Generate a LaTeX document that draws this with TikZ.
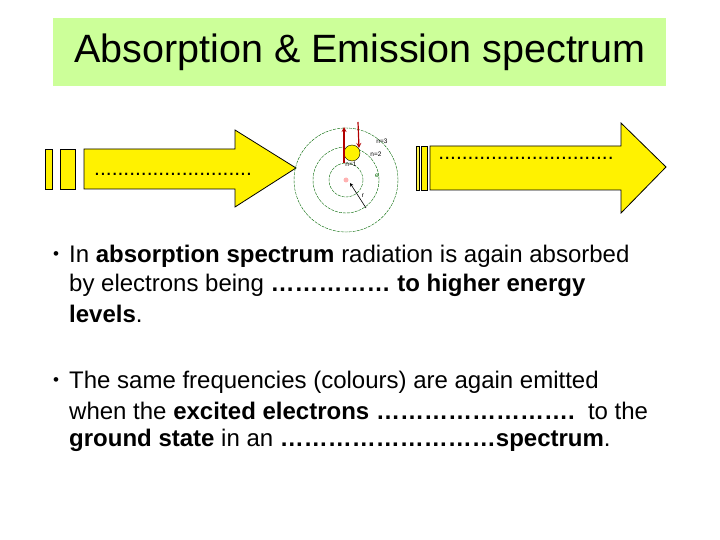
\documentclass[tikz,border=0pt]{standalone}
\usepackage{fontspec}
\setmainfont{Liberation Sans}
\begin{document}
\begin{tikzpicture}[x=1pt,y=-1pt,
  ybox/.style={draw=black,fill=yellow,line width=0.8pt},
  orbit/.style={draw=green!40!black,dashed,dash pattern=on 3pt off 1pt,line width=0.4pt},
  lab/.style={font=\fontsize{6.5}{7}\selectfont,inner sep=0pt},
  txt/.style={anchor=west,inner sep=0pt,font=\fontsize{24}{28}\selectfont}]
\useasboundingbox (0,0) rectangle (720,540);
\node[fill={rgb,255:red,204;green,255;blue,153},minimum width=613pt,minimum height=68pt,anchor=north west,inner sep=0pt] (title) at (53,18) {};
\node[font=\fontsize{39.5}{46}\selectfont] at (title.center) {Absorption \& Emission spectrum};
% left arrow
\draw[ybox] (45,149) rectangle (52,189);
\draw[ybox] (60,149) rectangle (75,189);
\draw[ybox] (84,149) -- (235,149) -- (235,130) -- (296,168) -- (235,207) -- (235,189) -- (84,189) -- cycle;
\node[inner sep=0pt,font=\fontsize{21}{24}\selectfont] (ld) at (173,174) {...........................};
% right arrow
\draw[ybox,fill=yellow!70!white] (416,146) rectangle (419,190);
\draw[ybox] (421,146) rectangle (427,190);
\draw[ybox] (430,146) -- (621,146) -- (621,123) -- (666,167) -- (621,213) -- (621,190) -- (430,190) -- cycle;
\node[inner sep=0pt,font=\fontsize{21}{24}\selectfont] (rd) at (526,158) {..............................};
% atom
\coordinate (c) at (346,180);
\draw[orbit] (c) circle (52);
\draw[orbit] (c) circle (33);
\draw[orbit] (c) circle (17);
\fill[red!30] (c) circle (2.5);
\node[draw=black,fill=yellow,circle,minimum size=16pt,inner sep=0pt] (ball) at (352,153) {};
\draw[red!70!black,line width=1.2pt,-stealth] (344,163) -- (344,127);
\draw[red!70!black,line width=1.2pt,-stealth] (358,122) -- (359,148);
\node[lab] at (351,164) {n=1};
\node[lab] at (376,154) {n=2};
\node[lab] at (382,141) {n=3};
\node[lab] at (363,196) {r};
\node[lab,green!40!black] at (377,176) {e};
\draw[-stealth,line width=0.6pt] (366,208) -- (350,183);
% bullets
\node[txt,font=\fontsize{17}{20}\selectfont] (b1) at (53,256) {\textbullet};
\node[txt] (l1) at (69,256) {In \textbf{absorption spectrum} radiation is again absorbed};
\node[txt] (l2) at (69,285) {by electrons being \textbf{…………… to higher energy}};
\node[txt] (l3) at (69,314) {\textbf{levels}.};
\node[txt,font=\fontsize{17}{20}\selectfont] (b2) at (53,382) {\textbullet};
\node[txt] (l4) at (69,382) {The same frequencies (colours) are again emitted};
\node[txt] (l5) at (69,411) {when the \textbf{excited electrons …………………….}\ \ to the};
\node[txt] (l6) at (69,440) {\textbf{ground state} in an \textbf{………………………spectrum}.};
\end{tikzpicture}
\end{document}
